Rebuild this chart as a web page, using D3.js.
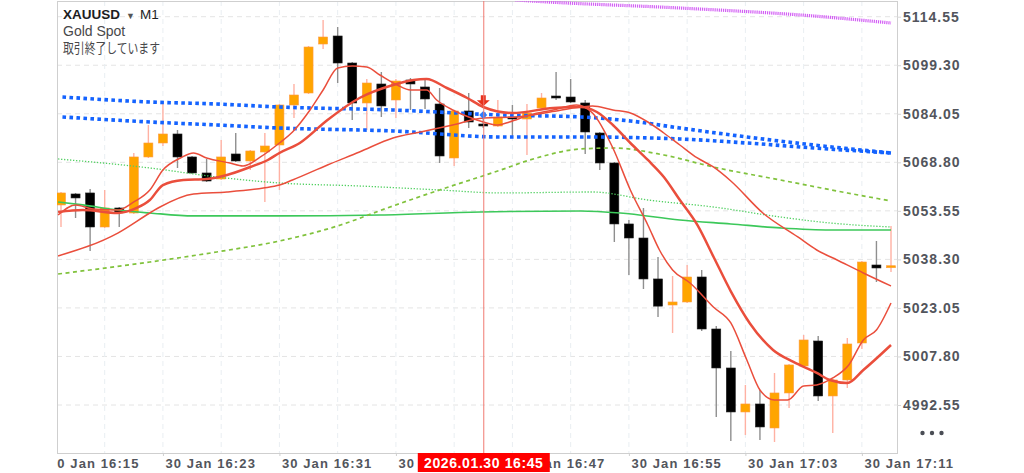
<!DOCTYPE html>
<html>
<head>
<meta charset="utf-8">
<script src="https://cdnjs.cloudflare.com/ajax/libs/d3/7.8.5/d3.min.js"></script>
<style>
	body { margin: 0; background: #fff; }
	svg { display: block; font-family: "Liberation Sans", Arial, sans-serif; }
</style>
</head>
<body>
<div id="chartDiv"></div>
<script>
// one candle per minute, index 0 = 30 Jan 16:16 ... index 57 = 17:13
var open  = [5055.40,5058.85,5059.17,5048.48,5054.45,5052.88,5070.48,5074.87,5077.70,5070.48,
	5065.45,5063.56,5071.42,5069.22,5072.04,5074.24,5086.81,5090.58,5105.97,5108.49,
	5100.00,5087.44,5093.41,5088.38,5094.66,5092.47,5087.12,5070.16,5084.93,5080.84,
	5080.21,5082.73,5082.41,5085.87,5089.32,5089.32,5087.44,5078.01,5068.59,5049.43,
	5045.02,5032.15,5023.97,5024.92,5032.77,5016.43,5004.18,4990.36,4992.87,4985.33,
	4996.33,5004.81,5012.66,4995.39,5000.41,5012.03,5036.54,5035.90];
var high  = [5059.48,5059.17,5060.42,5060.11,5054.76,5071.73,5080.53,5087.44,5078.96,5070.79,
	5069.85,5075.81,5078.01,5072.67,5078.01,5087.12,5093.41,5105.35,5113.51,5111.31,
	5100.32,5094.98,5097.18,5094.98,5095.29,5094.66,5092.15,5085.24,5090.58,5084.30,
	5088.38,5086.81,5087.12,5090.58,5097.18,5094.98,5088.38,5078.33,5068.90,5050.68,
	5054.45,5039.06,5033.08,5036.54,5034.97,5017.38,5009.53,4998.85,4997.27,5002.61,
	5005.44,5014.55,5014.24,5000.73,5013.61,5037.80,5044.08,5048.80];
var low   = [5048.48,5051.31,5040.94,5048.17,5048.48,5052.57,5070.16,5073.93,5067.02,5065.13,
	5062.62,5063.25,5068.90,5066.39,5056.34,5060.11,5082.73,5090.27,5104.40,5093.72,
	5082.10,5078.96,5083.04,5082.73,5085.24,5085.55,5068.59,5067.64,5079.58,5079.58,
	5079.90,5077.07,5071.10,5085.55,5088.38,5087.44,5071.42,5066.39,5043.77,5033.40,
	5029.00,5020.21,5015.18,5024.60,5015.80,4988.79,4981.25,4983.13,4981.56,4980.93,
	4991.62,5004.50,4993.81,4983.76,4997.90,5010.15,5031.20,5034.34];
var close = [5059.17,5057.60,5048.48,5054.45,5053.19,5070.48,5074.87,5077.70,5070.48,5065.45,
	5062.93,5070.48,5069.22,5072.36,5073.93,5086.81,5089.95,5105.03,5108.17,5100.00,
	5087.44,5093.72,5086.50,5094.35,5093.41,5088.70,5070.79,5084.93,5081.47,5080.21,
	5083.04,5082.25,5084.30,5089.01,5089.01,5087.75,5078.33,5068.59,5049.43,5045.02,
	5032.15,5023.61,5024.92,5032.77,5016.43,5004.18,4990.36,4992.87,4985.65,4996.33,
	5005.13,5012.98,4995.39,5000.41,5011.72,5037.48,5035.60,5036.00];

// indicator lines as [minute index, price]
var maFast = [[-0.2,5052.25],[1.0,5055.40],[2.2,5054.14],[3.9,5053.82],[5.0,5056.34],[6.1,5060.11],
	[7.0,5066.39],[8.2,5070.16],[9.1,5071.73],[10.0,5070.16],[11.6,5068.59],[12.5,5067.65],
	[13.7,5070.48],[15.0,5074.87],[15.9,5078.33],[17.1,5085.24],[18.0,5091.52],[19.0,5098.43],
	[20.0,5099.06],[21.0,5098.75],[21.9,5096.23],[23.1,5093.09],[24.0,5091.52],[25.1,5091.52],
	[25.8,5088.38],[26.9,5085.24],[28.0,5083.04],[29.0,5081.47],[30.0,5080.53],[30.8,5081.47],
	[32.2,5083.67],[33.8,5085.24],[35.4,5086.81],[36.5,5084.30],[37.9,5073.30],[39.1,5060.11],
	[40.3,5049.11],[41.1,5041.25],[42.0,5034.97],[43.2,5030.88],[44.8,5023.34],[46.0,5018.32],
	[47.1,5006.69],[48.0,4997.27],[49.0,4994.13],[49.9,4994.13],[51.0,4998.53],[51.9,4998.84],
	[53.0,5001.04],[54.1,5005.13],[55.1,5012.98],[56.0,5016.12],[57.0,5024.61]];
var maMid = [[-0.2,5053.19],[1.5,5053.82],[3.9,5052.88],[5.2,5054.45],[6.1,5056.96],[7.0,5061.67],
	[8.4,5063.25],[10.0,5063.56],[11.4,5064.82],[13.0,5067.33],[14.2,5069.53],[15.0,5071.73],
	[16.4,5074.87],[18.3,5082.10],[20.5,5089.01],[22.8,5093.09],[24.2,5094.66],[25.1,5094.98],
	[26.5,5092.15],[27.9,5089.01],[29.0,5086.18],[31.0,5084.30],[33.8,5085.87],[35.7,5086.18],
	[36.8,5084.61],[37.9,5080.53],[39.1,5074.87],[40.3,5069.53],[41.4,5064.19],[42.5,5056.96],
	[43.7,5049.11],[44.8,5039.22],[46.0,5028.27],[47.3,5018.26],[48.9,5009.84],[50.3,5006.07],
	[51.9,5002.61],[52.8,5000.41],[54.0,4999.47],[55.1,5003.55],[57.0,5011.41]];
var maSlow = [[-0.2,5039.37],[3.9,5046.57],[6.1,5052.88],[6.8,5054.76],[9.1,5058.85],[11.4,5059.48],
	[13.9,5060.73],[15.0,5061.67],[15.9,5063.25],[18.3,5067.96],[20.5,5072.04],[22.8,5076.44],
	[24.7,5078.33],[26.9,5080.53],[29.0,5082.73],[31.3,5083.04],[33.6,5084.61],[35.7,5086.18],
	[36.5,5086.50],[37.9,5085.24],[39.1,5084.30],[40.3,5081.47],[41.4,5078.01],[42.5,5074.24],
	[43.7,5070.16],[44.8,5067.33],[46.0,5062.93],[48.2,5052.88],[50.6,5045.34],[51.9,5041.25],
	[53.3,5038.11],[55.1,5034.03],[57.0,5029.94]];
var greenSolid = [[-0.2,5056.34],[1.5,5055.40],[3.9,5053.82],[6.1,5052.88],[9.1,5051.94],[15.0,5051.94],
	[21.9,5052.25],[28.8,5053.19],[35.7,5053.51],[38.4,5052.88],[42.5,5050.68],[46.0,5049.42],
	[49.4,5048.17],[52.8,5047.54],[57.0,5047.54]];
var greenDotted = [[-0.2,5069.85],[6.1,5067.02],[10.7,5064.19],[15.0,5062.31],[20.5,5061.36],[26.0,5060.11],
	[30.2,5059.17],[36.5,5059.48],[40.3,5056.96],[44.8,5054.76],[49.4,5051.62],[52.8,5049.74],[57.0,5048.48]];
var greenDashed = [[-0.2,5033.71],[6.1,5037.48],[10.7,5040.63],[15.0,5044.08],[19.2,5049.11],[22.4,5054.45],
	[26.0,5060.11],[30.2,5066.39],[32.2,5069.53],[35.7,5072.99],[37.9,5073.30],[41.4,5071.10],
	[44.8,5067.33],[49.4,5063.25],[54.0,5059.17],[57.0,5056.65]];
var blueUpper = [[0.1,5089.32],[6.1,5087.75],[10.7,5087.12],[15.0,5086.18],[22.8,5085.24],[30.2,5083.67],
	[35.7,5083.04],[39.1,5081.78],[42.5,5079.58],[47.1,5076.76],[51.7,5074.24],[57.0,5071.73]];
var blueLower = [[0.1,5083.04],[6.1,5081.47],[10.7,5080.53],[15.0,5079.58],[22.8,5078.64],[30.2,5076.76],
	[35.7,5076.76],[42.5,5076.13],[47.1,5074.87],[51.7,5073.30],[57.0,5071.73]];
var magenta = [[31.2,5119.80],[33.1,5119.26],[42.5,5117.28],[51.7,5114.77],[57.0,5112.57]];

// axes
var priceTicks = [5114.55, 5099.30, 5084.05, 5068.80, 5053.55, 5038.30, 5023.05, 5007.80, 4992.55];
var timeTicks = [-1, 7, 15, 23, 31, 39, 47, 55];
var timeLabels = ["30 Jan 16:15", "30 Jan 16:23", "30 Jan 16:31", "30 Jan 16:39",
	"30 Jan 16:47", "30 Jan 16:55", "30 Jan 17:03", "30 Jan 17:11"];
var gridTimes = [3, 7, 11, 15, 19, 23, 27, 31, 35, 39, 43, 47, 51, 55];

// crosshair and trade marker
var crossTime = 29;
var crossLabel = "2026.01.30 16:45";
var sellArrow = { t: 29, price: 5086.4 };
var blueMark = { t: 29, price: 5083.7 };

var W = 1024, H = 473;
var plot = { l: 57, r: 897, t: 1, b: 453 };

var x = d3.scaleLinear().domain([0, 57]).range([61, 891]);
var y = d3.scaleLinear().domain([4992.55, 5114.55]).range([405, 16.7]);

var svg = d3.select("#chartDiv")
	.append("svg")
	.attr("width", W)
	.attr("height", H);

var defs = svg.append("defs");
defs.append("clipPath")
	.attr("id", "plotClip")
	.append("rect")
	.attr("x", plot.l).attr("y", plot.t)
	.attr("width", plot.r - plot.l).attr("height", plot.b - plot.t);
defs.append("clipPath")
	.attr("id", "axisClip")
	.append("rect")
	.attr("x", plot.l).attr("y", plot.b)
	.attr("width", W - plot.l).attr("height", H - plot.b);

// grid
var grid = svg.append("g").attr("clip-path", "url(#plotClip)");
grid.selectAll("line.h")
	.data(priceTicks)
	.enter().append("line")
	.attr("x1", plot.l).attr("x2", plot.r)
	.attr("y1", function(d) { return y(d); })
	.attr("y2", function(d) { return y(d); })
	.attr("stroke", "#e4e4e4")
	.attr("stroke-dasharray", "5 4");
grid.selectAll("line.v")
	.data(gridTimes)
	.enter().append("line")
	.attr("y1", plot.t).attr("y2", plot.b)
	.attr("x1", function(d) { return x(d); })
	.attr("x2", function(d) { return x(d); })
	.attr("stroke", "#e9eef2")
	.attr("stroke-dasharray", "5 4");

// frame
svg.append("rect")
	.attr("x", plot.l + 0.5).attr("y", plot.t + 0.5)
	.attr("width", plot.r - plot.l).attr("height", plot.b - plot.t)
	.attr("fill", "none")
	.attr("stroke", "#cfcfcf");

var chart = svg.append("g").attr("clip-path", "url(#plotClip)");

// candles
var candles = d3.range(open.length).map(function(i) {
	return { t: i, o: open[i], h: high[i], l: low[i], c: close[i], up: close[i] >= open[i] };
});

var cg = chart.selectAll("g.candle")
	.data(candles)
	.enter().append("g");

cg.append("line")
	.attr("x1", function(d) { return x(d.t); })
	.attr("x2", function(d) { return x(d.t); })
	.attr("y1", function(d) { return y(d.h); })
	.attr("y2", function(d) { return y(d.l); })
	.attr("stroke", function(d) { return d.up ? "#ffb1a3" : "#8f8f8f"; })
	.attr("stroke-width", 1.4);

cg.append("rect")
	.attr("x", function(d) { return x(d.t) - 4.5; })
	.attr("width", 9)
	.attr("y", function(d) { return Math.min(y(d.o), y(d.c)) - (Math.abs(y(d.o) - y(d.c)) < 2 ? 1 : 0); })
	.attr("height", function(d) { return Math.max(Math.abs(y(d.o) - y(d.c)), 2); })
	.attr("fill", function(d) { return d.up ? "#ffa500" : "#000"; })
	.attr("stroke", function(d) { return d.up ? "#ff9a40" : "#222"; })
	.attr("stroke-width", 0.6);

// indicator lines
var line = d3.line()
	.x(function(d) { return x(d[0]); })
	.y(function(d) { return y(d[1]); })
	.curve(d3.curveMonotoneX);

var styles = [
	{ data: greenDotted, color: "#52d062", width: 1.3, dash: "1.3 1.7" },
	{ data: greenSolid, color: "#3cc85a", width: 1.7, dash: null },
	{ data: greenDashed, color: "#80c23c", width: 1.7, dash: "4 3.5" },
	{ data: blueUpper, color: "#1463ff", width: 3.6, dash: "3.6 3.4" },
	{ data: blueLower, color: "#1463ff", width: 3.6, dash: "3.6 3.4" },
	{ data: magenta, color: "#d35ef5", width: 3.2, dash: "1.2 0.9" },
	{ data: maSlow, color: "#ea4e3c", width: 1.5, dash: null },
	{ data: maMid, color: "#ea4e3c", width: 2.5, dash: null },
	{ data: maFast, color: "#ea4e3c", width: 1.5, dash: null }
];

chart.selectAll("path.ind")
	.data(styles)
	.enter().append("path")
	.attr("d", function(d) { return line(d.data); })
	.attr("fill", "none")
	.attr("stroke", function(d) { return d.color; })
	.attr("stroke-width", function(d) { return d.width; })
	.attr("stroke-dasharray", function(d) { return d.dash; });

// trade marker
var ax = x(sellArrow.t), ay = y(sellArrow.price);
chart.append("path")
	.attr("d", "M" + (ax - 2.5) + "," + (ay - 11) + "h5v5h4l-6.5,6l-6.5,-6h4z")
	.attr("fill", "#e8321e");
var bx = x(blueMark.t), by = y(blueMark.price);
chart.append("path")
	.attr("d", "M" + bx + "," + (by - 4) + "l4,4l-4,4l-4,-4z")
	.attr("fill", "#2d7bff");

// crosshair
chart.append("line")
	.attr("x1", x(crossTime) + 0.5).attr("x2", x(crossTime) + 0.5)
	.attr("y1", plot.t).attr("y2", plot.b)
	.attr("stroke", "#f07a72")
	.attr("stroke-width", 1);

// price axis
var yAxis = svg.append("g")
	.attr("transform", "translate(" + plot.r + ",0)")
	.call(d3.axisRight(y).tickValues(priceTicks).tickFormat(d3.format(".2f")).tickSize(4).tickPadding(2));
yAxis.select(".domain").remove();
yAxis.selectAll(".tick line").attr("stroke", "#d8d8d8");
yAxis.selectAll(".tick text")
	.attr("font-family", "Liberation Sans, Arial, sans-serif")
	.attr("font-size", 14)
	.attr("font-weight", "bold")
	.attr("letter-spacing", "1px")
	.attr("fill", "#52555c");

// time axis, clipped at the left edge of the plot
var xAxis = svg.append("g")
	.attr("clip-path", "url(#axisClip)")
	.append("g")
	.attr("transform", "translate(0," + plot.b + ")")
	.call(d3.axisBottom(x).tickValues(timeTicks)
		.tickFormat(function(d, i) { return timeLabels[i]; })
		.tickSize(3).tickPadding(3));
xAxis.select(".domain").remove();
xAxis.selectAll(".tick line").attr("stroke", "#cfcfcf");
xAxis.selectAll(".tick text")
	.attr("text-anchor", "start")
	.attr("x", 2)
	.attr("font-family", "Liberation Sans, Arial, sans-serif")
	.attr("font-size", 13)
	.attr("font-weight", "bold")
	.attr("letter-spacing", "1.1px")
	.attr("fill", "#52555c");

// crosshair time label
var cx = x(crossTime) + 0.5;
svg.append("rect")
	.attr("x", cx - 66).attr("y", plot.b)
	.attr("width", 132).attr("height", 19)
	.attr("fill", "#ff0000");
svg.append("text")
	.attr("x", cx).attr("y", plot.b + 15)
	.attr("text-anchor", "middle")
	.attr("font-size", 14)
	.attr("font-weight", "bold")
	.attr("letter-spacing", "0.6px")
	.attr("fill", "#fff")
	.text(crossLabel);

// menu dots
svg.append("g").selectAll("circle")
	.data([-1, 0, 1])
	.enter().append("circle")
	.attr("cx", function(d) { return 932 + d * 9.5; })
	.attr("cy", 433)
	.attr("r", 2.2)
	.attr("fill", "#4a4d55");

// symbol header
var head = svg.append("text").attr("x", 63).attr("y", 19).attr("font-size", 13.5).attr("fill", "#1d1d1f");
head.append("tspan").attr("font-weight", "bold").text("XAUUSD");
head.append("tspan").attr("dx", 6).attr("font-size", 9).attr("fill", "#555").text("▼");
head.append("tspan").attr("dx", 5).text("M1");

svg.append("text")
	.attr("x", 63).attr("y", 36)
	.attr("font-size", 14)
	.attr("fill", "#48484a")
	.text("Gold Spot");
svg.append("text")
	.attr("x", 63).attr("y", 53)
	.attr("font-size", 13.5)
	.attr("font-family", "Noto Sans CJK JP, sans-serif")
	.attr("textLength", 97)
	.attr("lengthAdjust", "spacingAndGlyphs")
	.attr("fill", "#48484a")
	.text("取引終了しています");
</script>
</body>
</html>
